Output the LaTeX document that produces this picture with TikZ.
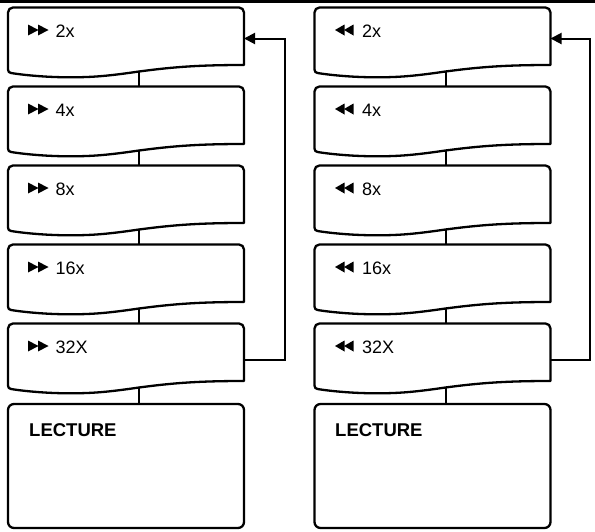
\documentclass[tikz,border=0pt]{standalone}
\usepackage{fontspec}
\setmainfont{Liberation Sans}
\usetikzlibrary{arrows.meta,calc}

\tikzset{
  boxbase/.style={draw=none, minimum width=236pt, minimum height=57.5pt, inner sep=0pt, outer sep=0pt, anchor=north west},
  lecbase/.style={draw=black, line width=2.3pt, rounded corners=6pt, minimum width=236pt, minimum height=124pt, inner sep=0pt, outer sep=0pt, anchor=north west},
  boxline/.style={draw=black, line width=2.3pt, line join=round},
  link/.style={draw=black, line width=2pt},
  feed/.style={draw=black, line width=2pt, -{Triangle[length=11pt,width=11pt]}},
  lbl/.style={font=\fontsize{18}{20}\selectfont, anchor=base west, inner sep=0pt},
  leclbl/.style={font=\bfseries\fontsize{18.5}{20}\selectfont, anchor=base west, inner sep=0pt},
  icon/.style={fill=black, draw=none},
}

% #1 name, #2 x, #3 y, #4 label, #5 direction (1 = forward, 0 = rewind)
\newcommand\wavebox[5]{%
  \node[boxbase] (#1) at (#2,#3) {};
  \begin{scope}[shift={(#1.north west)}]
    \draw[boxline] (0,5) .. controls (0,2.2) and (2.2,0) .. (5,0) -- (231,0)
      .. controls (233.8,0) and (236,2.2) .. (236,5) -- (236,57.5)
      .. controls (190,57.5) and (165,59.5) .. (131,64)
      .. controls (100,68.5) and (85,69.8) .. (62,69.8)
      .. controls (35,69.8) and (12,67) .. (3,65.5)
      .. controls (1,65.2) and (0,64) .. (0,62) -- cycle;
    \ifnum#5=1
      \fill[icon] (20,17) -- (30.5,22.5) -- (20,28) -- cycle;
      \fill[icon] (30,17) -- (40.5,22.5) -- (30,28) -- cycle;
    \else
      \fill[icon] (20.5,22.5) -- (30,17) -- (30,28) -- cycle;
      \fill[icon] (29.5,22.5) -- (39,17) -- (39,28) -- cycle;
    \fi
    \node[lbl] (#1-t) at (47.5,29.5) {#4};
    \coordinate (#1-b) at (131,64);
    \coordinate (#1-in) at (236,31);
    \coordinate (#1-out) at (236,36);
  \end{scope}
}

\begin{document}
\begin{tikzpicture}[x=1pt, y=-1pt]
\useasboundingbox (0,0) rectangle (595,531);
\fill[black] (0,0) rectangle (595,3);

% left column (fast forward)
\wavebox{f1}{8}{7.5}{2x}{1}
\wavebox{f2}{8}{86.5}{4x}{1}
\wavebox{f3}{8}{165.5}{8x}{1}
\wavebox{f4}{8}{244.5}{16x}{1}
\wavebox{f5}{8}{323.5}{32X}{1}
\node[lecbase] (fl) at (8,404) {};
\node[leclbl] (fl-t) at (29,436) {LECTURE};

% right column (rewind)
\wavebox{r1}{314.5}{7.5}{2x}{0}
\wavebox{r2}{314.5}{86.5}{4x}{0}
\wavebox{r3}{314.5}{165.5}{8x}{0}
\wavebox{r4}{314.5}{244.5}{16x}{0}
\wavebox{r5}{314.5}{323.5}{32X}{0}
\node[lecbase] (rl) at (314.5,404) {};
\node[leclbl] (rl-t) at (335,436) {LECTURE};

% vertical links
\foreach \c in {f,r}{
  \draw[link] (\c1-b) -- (\c1-b |- \c2.north);
  \draw[link] (\c2-b) -- (\c2-b |- \c3.north);
  \draw[link] (\c3-b) -- (\c3-b |- \c4.north);
  \draw[link] (\c4-b) -- (\c4-b |- \c5.north);
  \draw[link] (\c5-b) -- (\c5-b |- \c l.north);
}

% feedback loops
\coordinate (fx) at (284.5,0);
\coordinate (rx) at (589.5,0);
\draw[feed] (f5-out) -- (f5-out -| fx) -- (f1-in -| fx) -- (f1-in);
\draw[feed] (r5-out) -- (r5-out -| rx) -- (r1-in -| rx) -- (r1-in);
\end{tikzpicture}
\end{document}
